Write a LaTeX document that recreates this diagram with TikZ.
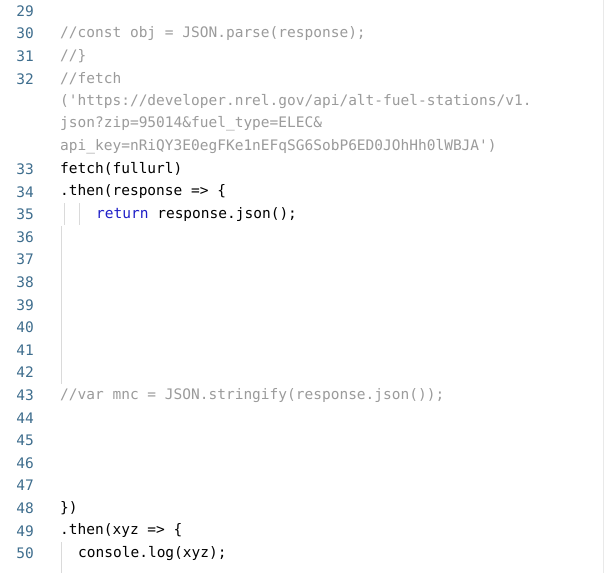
\documentclass[tikz,border=0pt]{standalone}
\usepackage{fontspec}
\setmonofont{DejaVu Sans Mono}
\definecolor{lnum}{HTML}{3F6E8E}
\definecolor{cmt}{HTML}{9B9B9B}
\definecolor{kw}{HTML}{1F1FC8}
\definecolor{guide}{HTML}{DADADA}
\begin{document}
\begin{tikzpicture}[x=1pt,y=-1pt,
  num/.style={anchor=east,inner sep=0pt,text=lnum,font=\ttfamily\fontsize{14.5}{16}\selectfont},
  code/.style={anchor=west,inner sep=0pt,text=black,font=\ttfamily\fontsize{14.5}{16}\selectfont},
  comment/.style={code,text=cmt}]
\fill[white] (0,0) rectangle (608,573);
\useasboundingbox (0,0) rectangle (608,573);
\def\p{22.6}
\newcommand{\rowy}[1]{11+#1*\p}
% guides
\draw[guide,line width=0.8pt] (64,{\rowy{9}-11}) -- (64,{\rowy{9}+11});
\draw[guide,line width=0.8pt] (79,{\rowy{9}-11}) -- (79,{\rowy{9}+11});
\draw[guide,line width=0.8pt] (61,{\rowy{10}-11}) -- (61,{\rowy{16}+11});
\draw[guide,line width=0.8pt] (61,{\rowy{24}-11}) -- (61,573);
\draw[guide!60,line width=0.8pt] (603,0) -- (603,573);
% line numbers
\foreach \n/\r in {29/0,30/1,31/2,32/3,33/7,34/8,35/9,36/10,37/11,38/12,39/13,40/14,41/15,42/16,43/17,44/18,45/19,46/20,47/21,48/22,49/23,50/24}
  \node[num] (n\n) at (34,{\rowy{\r}}) {\n};
% code
\node[comment] (c30) at (60,{\rowy{1}}) {//const obj = JSON.parse(response);};
\node[comment] (c31) at (60,{\rowy{2}}) {//\}};
\node[comment] (c32) at (60,{\rowy{3}}) {//fetch};
\node[comment] (c32a) at (60,{\rowy{4}}) {('https://developer.nrel.gov/api/alt-fuel-stations/v1.};
\node[comment] (c32b) at (60,{\rowy{5}}) {json?zip=95014\&fuel\_type=ELEC\&};
\node[comment] (c32c) at (60,{\rowy{6}}) {api\_key=nRiQY3E0egFKe1nEFqSG6SobP6ED0JOhHh0lWBJA')};
\node[code] (c33) at (60,{\rowy{7}}) {fetch(fullurl)};
\node[code] (c34) at (60,{\rowy{8}}) {.then(response => \{};
\node[code] (c35) at (96,{\rowy{9}}) {\textcolor{kw}{return} response.json();};
\node[comment] (c43) at (60,{\rowy{17}}) {//var mnc = JSON.stringify(response.json());};
\node[code] (c48) at (60,{\rowy{22}}) {\})};
\node[code] (c49) at (60,{\rowy{23}}) {.then(xyz => \{};
\node[code] (c50) at (78,{\rowy{24}}) {console.log(xyz);};
\end{tikzpicture}
\end{document}
